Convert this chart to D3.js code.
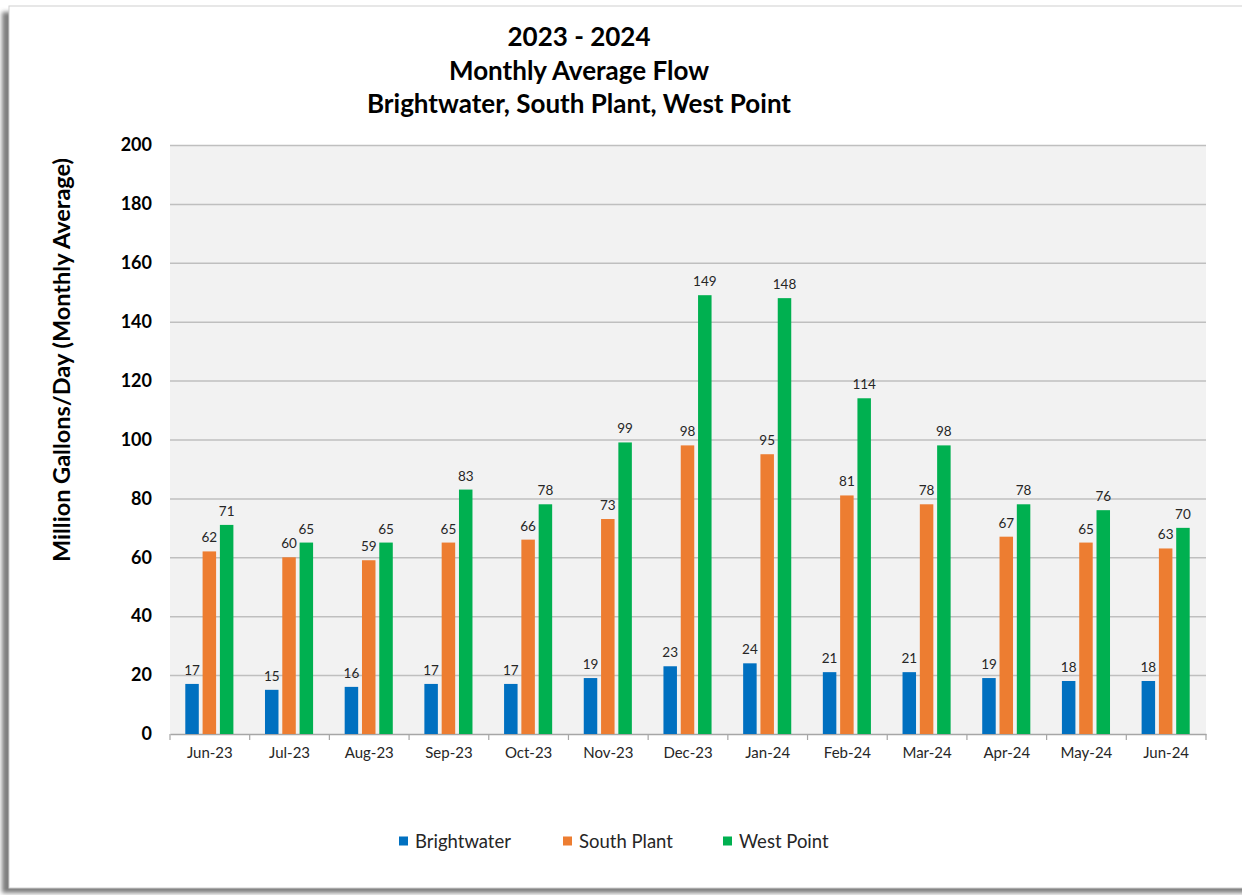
<!DOCTYPE html>
<html>
<head>
<meta charset="utf-8">
<script src="https://cdn.jsdelivr.net/npm/d3@7"></script>
<style>
  html, body { margin: 0; padding: 0; background: #ffffff; }
  svg { display: block; }
</style>
</head>
<body>
<svg id="chart" width="1242" height="895"></svg>
<script>
const months = ["Jun-23","Jul-23","Aug-23","Sep-23","Oct-23","Nov-23","Dec-23","Jan-24","Feb-24","Mar-24","Apr-24","May-24","Jun-24"];
const seriesNames = ["Brightwater","South Plant","West Point"];
const brightwater = [17, 15, 16, 17, 17, 19, 23, 24, 21, 21, 19, 18, 18];
const southPlant  = [62, 60, 59, 65, 66, 73, 98, 95, 81, 78, 67, 65, 63];
const westPoint   = [71, 65, 65, 83, 78, 99, 149, 148, 114, 98, 78, 76, 70];
const yTicks = [0, 20, 40, 60, 80, 100, 120, 140, 160, 180, 200];
const titleLines = ["2023 - 2024", "Monthly Average Flow", "Brightwater, South Plant, West Point"];
const yAxisTitle = "Million Gallons/Day (Monthly Average)";
const colors = ["#0070c0", "#ed7d31", "#00b050"];

const seriesValues = [brightwater, southPlant, westPoint];
const font = "Lato, 'Open Sans', sans-serif";

const svg = d3.select("#chart");

// frame with shadow
const defs = svg.append("defs");
const f = defs.append("filter").attr("id", "blur").attr("x", "-5%").attr("y", "-5%").attr("width", "110%").attr("height", "110%");
f.append("feGaussianBlur").attr("stdDeviation", 2);
svg.append("rect").attr("x", 2).attr("y", 12).attr("width", 1250).attr("height", 881)
  .attr("fill", "#7f7f7f").attr("filter", "url(#blur)");
svg.append("rect").attr("x", 9).attr("y", 6).attr("width", 1240).attr("height", 882)
  .attr("fill", "#ffffff").attr("stroke", "#d0d0d0").attr("stroke-width", 1);

const plot = { left: 170, right: 1206, top: 145, bottom: 734 };

const x = d3.scaleBand().domain(months).range([plot.left, plot.right]).paddingInner(0).paddingOuter(0);
const y = d3.scaleLinear().domain([0, 200]).range([plot.bottom, plot.top]);
const barW = 13.5, barStep = 17.3;
const xs = d3.scaleBand().domain(seriesNames).range([0, barStep * 3]);

// plot background
svg.append("rect").attr("x", plot.left).attr("y", plot.top)
  .attr("width", plot.right - plot.left).attr("height", plot.bottom - plot.top)
  .attr("fill", "#f2f2f2");

// gridlines
const grid = d3.axisLeft(y).tickValues(yTicks.filter(d => d > 0)).tickSize(-(plot.right - plot.left)).tickFormat("");
svg.append("g").attr("transform", `translate(${plot.left},0)`).call(grid)
  .call(g => g.select(".domain").remove())
  .call(g => g.selectAll("line").attr("stroke", "#bfbfbf").attr("stroke-width", 1.5));

// y axis labels
const yAxis = d3.axisLeft(y).tickValues(yTicks).tickSize(0).tickPadding(18);
svg.append("g").attr("transform", `translate(${plot.left},0)`).call(yAxis)
  .call(g => g.select(".domain").remove())
  .call(g => g.selectAll("text").attr("font-family", font).attr("font-size", 18)
    .attr("font-weight", "bold").attr("fill", "#000"));

// x axis
const xAxis = d3.axisBottom(x).tickSize(0).tickPadding(13);
const gx = svg.append("g").attr("transform", `translate(0,${plot.bottom})`).call(xAxis);
gx.select(".domain").attr("stroke", "#a6a6a6").attr("stroke-width", 1.5);
gx.selectAll("text").attr("font-family", font).attr("font-size", 15).attr("fill", "#262626");
// boundary ticks
const bounds = months.map(m => x(m)).concat([plot.right]);
svg.append("g").selectAll("line").data(bounds).join("line")
  .attr("x1", d => d).attr("x2", d => d)
  .attr("y1", plot.bottom).attr("y2", plot.bottom + 6)
  .attr("stroke", "#a6a6a6").attr("stroke-width", 1.2);

// bars
const groupOffset = (x.bandwidth() - barStep * 3 + (barStep - barW)) / 2;
seriesValues.forEach((vals, si) => {
  const g = svg.append("g");
  g.selectAll("rect").data(vals).join("rect")
    .attr("x", (d, i) => x(months[i]) + groupOffset + xs(seriesNames[si]) - 0.5)
    .attr("y", d => y(d))
    .attr("width", barW)
    .attr("height", d => y(0) - y(d))
    .attr("fill", colors[si]);
  g.selectAll("text").data(vals).join("text")
    .attr("x", (d, i) => x(months[i]) + groupOffset + xs(seriesNames[si]) - 0.5 + barW / 2)
    .attr("y", d => y(d) - 9)
    .attr("text-anchor", "middle")
    .attr("font-family", font).attr("font-size", 13.5).attr("fill", "#262626")
    .text(d => d3.format(".0f")(d));
});

// title
svg.append("g").selectAll("text").data(titleLines).join("text")
  .attr("x", 579).attr("y", (d, i) => 46 + i * 33.5)
  .attr("text-anchor", "middle")
  .attr("font-family", font).attr("font-size", 26).attr("font-weight", "bold").attr("fill", "#000")
  .text(d => d);

// y axis title
svg.append("text")
  .attr("transform", `translate(70,360) rotate(-90)`)
  .attr("text-anchor", "middle")
  .attr("font-family", font).attr("font-size", 23.5).attr("font-weight", "bold").attr("fill", "#000")
  .text(yAxisTitle);

// legend
const legendX = [399, 563, 723];
const lg = svg.append("g").selectAll("g").data(seriesNames).join("g")
  .attr("transform", (d, i) => `translate(${legendX[i]},841)`);
lg.append("rect").attr("x", 0).attr("y", -4.5).attr("width", 9).attr("height", 9)
  .attr("fill", (d, i) => colors[i]);
lg.append("text").attr("x", 16).attr("y", 6.5)
  .attr("font-family", font).attr("font-size", 18.5).attr("fill", "#262626")
  .text(d => d);
</script>
</body>
</html>
